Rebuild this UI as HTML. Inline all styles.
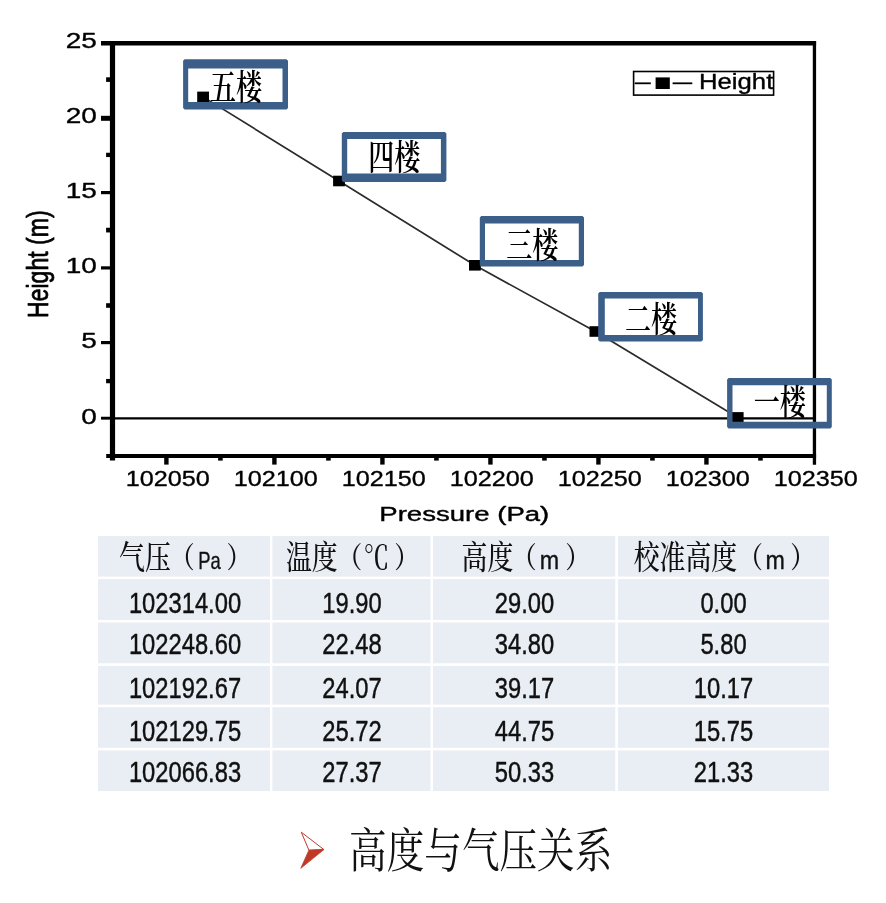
<!DOCTYPE html>
<html lang="zh-CN">
<head>
<meta charset="utf-8">
<title>高度与气压关系</title>
<style>
html,body{margin:0;padding:0;background:#fff;}
body{width:886px;height:903px;overflow:hidden;}
svg{display:block;filter:blur(0.5px);}
</style>
</head>
<body>
<svg width="886" height="903" viewBox="0 0 886 903">
<rect width="886" height="903" fill="#fff"/>
<g fill="#E9EDF4">
<rect x="98.0" y="536.0" width="172.0" height="40.6"/>
<rect x="272.4" y="536.0" width="158.1" height="40.6"/>
<rect x="433.0" y="536.0" width="182.3" height="40.6"/>
<rect x="617.8" y="536.0" width="211.2" height="40.6"/>
<rect x="98.0" y="579.1" width="172.0" height="40.8"/>
<rect x="272.4" y="579.1" width="158.1" height="40.8"/>
<rect x="433.0" y="579.1" width="182.3" height="40.8"/>
<rect x="617.8" y="579.1" width="211.2" height="40.8"/>
<rect x="98.0" y="622.5" width="172.0" height="40.8"/>
<rect x="272.4" y="622.5" width="158.1" height="40.8"/>
<rect x="433.0" y="622.5" width="182.3" height="40.8"/>
<rect x="617.8" y="622.5" width="211.2" height="40.8"/>
<rect x="98.0" y="665.9" width="172.0" height="38.7"/>
<rect x="272.4" y="665.9" width="158.1" height="38.7"/>
<rect x="433.0" y="665.9" width="182.3" height="38.7"/>
<rect x="617.8" y="665.9" width="211.2" height="38.7"/>
<rect x="98.0" y="707.2" width="172.0" height="40.6"/>
<rect x="272.4" y="707.2" width="158.1" height="40.6"/>
<rect x="433.0" y="707.2" width="182.3" height="40.6"/>
<rect x="617.8" y="707.2" width="211.2" height="40.6"/>
<rect x="98.0" y="750.4" width="172.0" height="40.6"/>
<rect x="272.4" y="750.4" width="158.1" height="40.6"/>
<rect x="433.0" y="750.4" width="182.3" height="40.6"/>
<rect x="617.8" y="750.4" width="211.2" height="40.6"/>
</g>
<g stroke="#000" fill="none" stroke-linecap="butt">
<line x1="101" y1="43.2" x2="816.1" y2="43.2" stroke-width="4.4"/>
<line x1="112.5" y1="40.900000000000006" x2="112.5" y2="460.6" stroke-width="5.2"/>
<line x1="106.2" y1="456.0" x2="816.1" y2="456.0" stroke-width="4.2"/>
<line x1="814.45" y1="41.0" x2="814.45" y2="464.7" stroke-width="3.3"/>
<line x1="101.0" y1="118.3" x2="112.5" y2="118.3" stroke-width="5.0"/>
<line x1="101.0" y1="192.6" x2="112.5" y2="192.6" stroke-width="3.2"/>
<line x1="101.0" y1="267.9" x2="112.5" y2="267.9" stroke-width="3.2"/>
<line x1="101.0" y1="342.6" x2="112.5" y2="342.6" stroke-width="3.2"/>
<line x1="101.0" y1="418.2" x2="112.5" y2="418.2" stroke-width="2.9"/>
<line x1="106.1" y1="79.6" x2="112.5" y2="79.6" stroke-width="4.6"/>
<line x1="106.1" y1="154.9" x2="112.5" y2="154.9" stroke-width="4.3"/>
<line x1="106.1" y1="230.1" x2="112.5" y2="230.1" stroke-width="4.7"/>
<line x1="106.1" y1="305.5" x2="112.5" y2="305.5" stroke-width="4.6"/>
<line x1="106.1" y1="381.1" x2="112.5" y2="381.1" stroke-width="4.3"/>
<line x1="166.40" y1="456.0" x2="166.40" y2="464.6" stroke-width="4.4"/>
<line x1="274.41" y1="456.0" x2="274.41" y2="464.6" stroke-width="4.4"/>
<line x1="382.42" y1="456.0" x2="382.42" y2="464.6" stroke-width="4.4"/>
<line x1="490.43" y1="456.0" x2="490.43" y2="464.6" stroke-width="4.4"/>
<line x1="598.43" y1="456.0" x2="598.43" y2="464.6" stroke-width="4.4"/>
<line x1="706.44" y1="456.0" x2="706.44" y2="464.6" stroke-width="4.4"/>
<line x1="220.40" y1="456.0" x2="220.40" y2="460.6" stroke-width="4.6"/>
<line x1="328.41" y1="456.0" x2="328.41" y2="460.6" stroke-width="4.6"/>
<line x1="436.42" y1="456.0" x2="436.42" y2="460.6" stroke-width="4.6"/>
<line x1="544.43" y1="456.0" x2="544.43" y2="460.6" stroke-width="4.6"/>
<line x1="652.44" y1="456.0" x2="652.44" y2="460.6" stroke-width="4.6"/>
<line x1="760.45" y1="456.0" x2="760.45" y2="460.6" stroke-width="4.6"/>
<line x1="112.5" y1="418.4" x2="814.45" y2="418.4" stroke-width="2.2"/>
</g>
<polyline points="203.1,96.9 339.0,181.0 474.9,265.3 595.4,331.5 737.7,417.4" fill="none" stroke="#2b2b2b" stroke-width="1.7"/>
<rect x="197.2" y="91.6" width="11.8" height="10.6" fill="#000"/>
<rect x="333.1" y="175.7" width="11.8" height="10.6" fill="#000"/>
<rect x="469.0" y="260.0" width="11.8" height="10.6" fill="#000"/>
<rect x="589.5" y="326.2" width="11.8" height="10.6" fill="#000"/>
<rect x="731.8" y="412.1" width="11.8" height="10.6" fill="#000"/>
<text transform="translate(96.90 47.50) scale(1.2500 1.0000)" text-anchor="end" font-family='"Liberation Sans", sans-serif' font-size="22.4" font-weight="normal" fill="#000" stroke="#000" stroke-width="0.35" stroke-linejoin="round">25</text>
<text transform="translate(96.90 122.70) scale(1.2500 1.0000)" text-anchor="end" font-family='"Liberation Sans", sans-serif' font-size="22.4" font-weight="normal" fill="#000" stroke="#000" stroke-width="0.35" stroke-linejoin="round">20</text>
<text transform="translate(96.90 197.90) scale(1.2500 1.0000)" text-anchor="end" font-family='"Liberation Sans", sans-serif' font-size="22.4" font-weight="normal" fill="#000" stroke="#000" stroke-width="0.35" stroke-linejoin="round">15</text>
<text transform="translate(96.90 273.10) scale(1.2500 1.0000)" text-anchor="end" font-family='"Liberation Sans", sans-serif' font-size="22.4" font-weight="normal" fill="#000" stroke="#000" stroke-width="0.35" stroke-linejoin="round">10</text>
<text transform="translate(96.90 348.20) scale(1.2500 1.0000)" text-anchor="end" font-family='"Liberation Sans", sans-serif' font-size="22.4" font-weight="normal" fill="#000" stroke="#000" stroke-width="0.35" stroke-linejoin="round">5</text>
<text transform="translate(96.90 423.50) scale(1.2500 1.0000)" text-anchor="end" font-family='"Liberation Sans", sans-serif' font-size="22.4" font-weight="normal" fill="#000" stroke="#000" stroke-width="0.35" stroke-linejoin="round">0</text>
<text transform="translate(167.80 485.90) scale(1.1250 1.0000)" text-anchor="middle" font-family='"Liberation Sans", sans-serif' font-size="22.4" font-weight="normal" fill="#000" stroke="#000" stroke-width="0.35" stroke-linejoin="round">102050</text>
<text transform="translate(275.81 485.90) scale(1.1250 1.0000)" text-anchor="middle" font-family='"Liberation Sans", sans-serif' font-size="22.4" font-weight="normal" fill="#000" stroke="#000" stroke-width="0.35" stroke-linejoin="round">102100</text>
<text transform="translate(383.82 485.90) scale(1.1250 1.0000)" text-anchor="middle" font-family='"Liberation Sans", sans-serif' font-size="22.4" font-weight="normal" fill="#000" stroke="#000" stroke-width="0.35" stroke-linejoin="round">102150</text>
<text transform="translate(491.83 485.90) scale(1.1250 1.0000)" text-anchor="middle" font-family='"Liberation Sans", sans-serif' font-size="22.4" font-weight="normal" fill="#000" stroke="#000" stroke-width="0.35" stroke-linejoin="round">102200</text>
<text transform="translate(599.83 485.90) scale(1.1250 1.0000)" text-anchor="middle" font-family='"Liberation Sans", sans-serif' font-size="22.4" font-weight="normal" fill="#000" stroke="#000" stroke-width="0.35" stroke-linejoin="round">102250</text>
<text transform="translate(707.84 485.90) scale(1.1250 1.0000)" text-anchor="middle" font-family='"Liberation Sans", sans-serif' font-size="22.4" font-weight="normal" fill="#000" stroke="#000" stroke-width="0.35" stroke-linejoin="round">102300</text>
<text transform="translate(815.85 485.90) scale(1.1250 1.0000)" text-anchor="middle" font-family='"Liberation Sans", sans-serif' font-size="22.4" font-weight="normal" fill="#000" stroke="#000" stroke-width="0.35" stroke-linejoin="round">102350</text>
<text transform="translate(464.30 521.20) scale(1.3250 1.0000)" text-anchor="middle" font-family='"Liberation Sans", sans-serif' font-size="20.8" font-weight="normal" fill="#000" stroke="#000" stroke-width="0.38" stroke-linejoin="round">Pressure (Pa)</text>
<text transform="translate(48.00 264.20) rotate(-90) scale(1.0000 1.3000)" text-anchor="middle" font-family='"Liberation Sans", sans-serif' font-size="23.1" font-weight="normal" fill="#000" stroke="#000" stroke-width="0.6" stroke-linejoin="round">Height (m)</text>
<rect x="633.6" y="71.5" width="140" height="23.6" fill="#fff" stroke="#000" stroke-width="1.6"/>
<line x1="634.7" y1="83.3" x2="650.8" y2="83.3" stroke="#000" stroke-width="1.8"/>
<line x1="672.6" y1="83.3" x2="692.3" y2="83.3" stroke="#000" stroke-width="1.8"/>
<rect x="655.6" y="77.4" width="14.2" height="11.6" fill="#000"/>
<text transform="translate(699.00 89.20) scale(1.1900 1.0000)" text-anchor="start" font-family='"Liberation Sans", sans-serif' font-size="21.6" font-weight="normal" fill="#000" stroke="#000" stroke-width="0.35" stroke-linejoin="round">Height</text>
<path fill="#3C5F8A" fill-rule="evenodd" d="M184.6,59.2 H286.5 L288.0,60.7 V107.9 L286.5,109.4 H184.6 L183.1,107.9 V60.7 Z M188.2,68.5 V102.1 H282.5 V68.5 Z"/>
<text transform="translate(235.95 100.00) scale(0.7380 1.0000)" text-anchor="middle" font-family='"Liberation Serif", "Noto Serif CJK SC", serif' font-size="35.3" font-weight="600" fill="#000">五楼</text>
<path fill="#3C5F8A" fill-rule="evenodd" d="M343.3,131.9 H444.9 L446.4,133.4 V180.4 L444.9,181.9 H343.3 L341.8,180.4 V133.4 Z M347.2,139.0 V173.4 H440.9 V139.0 Z"/>
<text transform="translate(394.30 170.00) scale(0.7380 1.0000)" text-anchor="middle" font-family='"Liberation Serif", "Noto Serif CJK SC", serif' font-size="35.3" font-weight="600" fill="#000">四楼</text>
<path fill="#3C5F8A" fill-rule="evenodd" d="M481.3,216.1 H582.5 L584.0,217.6 V264.9 L582.5,266.4 H481.3 L479.8,264.9 V217.6 Z M485.0,223.4 V260.0 H578.8 V223.4 Z"/>
<text transform="translate(532.30 257.50) scale(0.7380 1.0000)" text-anchor="middle" font-family='"Liberation Serif", "Noto Serif CJK SC", serif' font-size="35.3" font-weight="600" fill="#000">三楼</text>
<path fill="#3C5F8A" fill-rule="evenodd" d="M599.7,291.9 H701.4 L702.9,293.4 V340.1 L701.4,341.6 H599.7 L598.2,340.1 V293.4 Z M604.8,298.5 V335.0 H698.0 V298.5 Z"/>
<text transform="translate(651.10 332.00) scale(0.7380 1.0000)" text-anchor="middle" font-family='"Liberation Serif", "Noto Serif CJK SC", serif' font-size="35.3" font-weight="600" fill="#000">二楼</text>
<path fill="#3C5F8A" fill-rule="evenodd" d="M728.6,378.1 H830.3 L831.8,379.6 V427.1 L830.3,428.6 H728.6 L727.1,427.1 V379.6 Z M732.5,385.3 V421.8 H826.8 V385.3 Z"/>
<text transform="translate(779.70 414.50) scale(0.7380 1.0000)" text-anchor="middle" font-family='"Liberation Serif", "Noto Serif CJK SC", serif' font-size="35.3" font-weight="600" fill="#000">一楼</text>
<text transform="translate(119.10 569.30) scale(0.7820 1.0000)" text-anchor="start" font-family='"Liberation Sans", "Noto Serif CJK SC", sans-serif' font-size="33" font-weight="500" fill="#111">气压</text>
<text transform="translate(169.70 568.30) scale(0.8600 1.0000)" text-anchor="start" font-family='"Liberation Sans", "Noto Serif CJK SC", sans-serif' font-size="29" font-weight="600" fill="#111">（</text>
<text transform="translate(198.20 569.30) scale(0.8000 1.0000)" text-anchor="start" font-family='"Liberation Sans", sans-serif' font-size="23.0" font-weight="normal" fill="#111" stroke="#111" stroke-width="0.35" stroke-linejoin="round">Pa</text>
<text transform="translate(226.40 568.30) scale(0.8600 1.0000)" text-anchor="start" font-family='"Liberation Sans", "Noto Serif CJK SC", sans-serif' font-size="29" font-weight="600" fill="#111">）</text>
<text transform="translate(286.00 569.30) scale(0.7820 1.0000)" text-anchor="start" font-family='"Liberation Sans", "Noto Serif CJK SC", sans-serif' font-size="33" font-weight="500" fill="#111">温度</text>
<text transform="translate(337.30 568.30) scale(0.8600 1.0000)" text-anchor="start" font-family='"Liberation Sans", "Noto Serif CJK SC", sans-serif' font-size="29" font-weight="600" fill="#111">（</text>
<text transform="translate(363.60 569.30) scale(0.7820 1.0000)" text-anchor="start" font-family='"Liberation Sans", "Noto Serif CJK SC", sans-serif' font-size="33" font-weight="500" fill="#111">℃</text>
<text transform="translate(394.30 568.30) scale(0.8600 1.0000)" text-anchor="start" font-family='"Liberation Sans", "Noto Serif CJK SC", sans-serif' font-size="29" font-weight="600" fill="#111">）</text>
<text transform="translate(461.60 569.30) scale(0.7820 1.0000)" text-anchor="start" font-family='"Liberation Sans", "Noto Serif CJK SC", sans-serif' font-size="33" font-weight="500" fill="#111">高度</text>
<text transform="translate(511.80 568.30) scale(0.8600 1.0000)" text-anchor="start" font-family='"Liberation Sans", "Noto Serif CJK SC", sans-serif' font-size="29" font-weight="600" fill="#111">（</text>
<text transform="translate(539.80 569.30) scale(0.9300 1.0000)" text-anchor="start" font-family='"Liberation Sans", sans-serif' font-size="25.0" font-weight="normal" fill="#111" stroke="#111" stroke-width="0.35" stroke-linejoin="round">m</text>
<text transform="translate(565.20 568.30) scale(0.8600 1.0000)" text-anchor="start" font-family='"Liberation Sans", "Noto Serif CJK SC", sans-serif' font-size="29" font-weight="600" fill="#111">）</text>
<text transform="translate(633.80 569.30) scale(0.7820 1.0000)" text-anchor="start" font-family='"Liberation Sans", "Noto Serif CJK SC", sans-serif' font-size="33" font-weight="500" fill="#111">校准高度</text>
<text transform="translate(737.90 568.30) scale(0.8600 1.0000)" text-anchor="start" font-family='"Liberation Sans", "Noto Serif CJK SC", sans-serif' font-size="29" font-weight="600" fill="#111">（</text>
<text transform="translate(765.40 569.30) scale(0.9300 1.0000)" text-anchor="start" font-family='"Liberation Sans", sans-serif' font-size="25.0" font-weight="normal" fill="#111" stroke="#111" stroke-width="0.35" stroke-linejoin="round">m</text>
<text transform="translate(790.20 568.30) scale(0.8600 1.0000)" text-anchor="start" font-family='"Liberation Sans", "Noto Serif CJK SC", sans-serif' font-size="29" font-weight="600" fill="#111">）</text>
<text transform="translate(185.00 612.90) scale(0.8050 1.0000)" text-anchor="middle" font-family='"Liberation Sans", sans-serif' font-size="29.5" font-weight="normal" fill="#111" stroke="#111" stroke-width="0.45" stroke-linejoin="round">102314.00</text>
<text transform="translate(352.00 612.90) scale(0.8050 1.0000)" text-anchor="middle" font-family='"Liberation Sans", sans-serif' font-size="29.5" font-weight="normal" fill="#111" stroke="#111" stroke-width="0.45" stroke-linejoin="round">19.90</text>
<text transform="translate(524.50 612.90) scale(0.8050 1.0000)" text-anchor="middle" font-family='"Liberation Sans", sans-serif' font-size="29.5" font-weight="normal" fill="#111" stroke="#111" stroke-width="0.45" stroke-linejoin="round">29.00</text>
<text transform="translate(723.50 612.90) scale(0.8050 1.0000)" text-anchor="middle" font-family='"Liberation Sans", sans-serif' font-size="29.5" font-weight="normal" fill="#111" stroke="#111" stroke-width="0.45" stroke-linejoin="round">0.00</text>
<text transform="translate(185.00 654.20) scale(0.8050 1.0000)" text-anchor="middle" font-family='"Liberation Sans", sans-serif' font-size="29.5" font-weight="normal" fill="#111" stroke="#111" stroke-width="0.45" stroke-linejoin="round">102248.60</text>
<text transform="translate(352.00 654.20) scale(0.8050 1.0000)" text-anchor="middle" font-family='"Liberation Sans", sans-serif' font-size="29.5" font-weight="normal" fill="#111" stroke="#111" stroke-width="0.45" stroke-linejoin="round">22.48</text>
<text transform="translate(524.50 654.20) scale(0.8050 1.0000)" text-anchor="middle" font-family='"Liberation Sans", sans-serif' font-size="29.5" font-weight="normal" fill="#111" stroke="#111" stroke-width="0.45" stroke-linejoin="round">34.80</text>
<text transform="translate(723.50 654.20) scale(0.8050 1.0000)" text-anchor="middle" font-family='"Liberation Sans", sans-serif' font-size="29.5" font-weight="normal" fill="#111" stroke="#111" stroke-width="0.45" stroke-linejoin="round">5.80</text>
<text transform="translate(185.00 697.60) scale(0.8050 1.0000)" text-anchor="middle" font-family='"Liberation Sans", sans-serif' font-size="29.5" font-weight="normal" fill="#111" stroke="#111" stroke-width="0.45" stroke-linejoin="round">102192.67</text>
<text transform="translate(352.00 697.60) scale(0.8050 1.0000)" text-anchor="middle" font-family='"Liberation Sans", sans-serif' font-size="29.5" font-weight="normal" fill="#111" stroke="#111" stroke-width="0.45" stroke-linejoin="round">24.07</text>
<text transform="translate(524.50 697.60) scale(0.8050 1.0000)" text-anchor="middle" font-family='"Liberation Sans", sans-serif' font-size="29.5" font-weight="normal" fill="#111" stroke="#111" stroke-width="0.45" stroke-linejoin="round">39.17</text>
<text transform="translate(723.50 697.60) scale(0.8050 1.0000)" text-anchor="middle" font-family='"Liberation Sans", sans-serif' font-size="29.5" font-weight="normal" fill="#111" stroke="#111" stroke-width="0.45" stroke-linejoin="round">10.17</text>
<text transform="translate(185.00 740.90) scale(0.8050 1.0000)" text-anchor="middle" font-family='"Liberation Sans", sans-serif' font-size="29.5" font-weight="normal" fill="#111" stroke="#111" stroke-width="0.45" stroke-linejoin="round">102129.75</text>
<text transform="translate(352.00 740.90) scale(0.8050 1.0000)" text-anchor="middle" font-family='"Liberation Sans", sans-serif' font-size="29.5" font-weight="normal" fill="#111" stroke="#111" stroke-width="0.45" stroke-linejoin="round">25.72</text>
<text transform="translate(524.50 740.90) scale(0.8050 1.0000)" text-anchor="middle" font-family='"Liberation Sans", sans-serif' font-size="29.5" font-weight="normal" fill="#111" stroke="#111" stroke-width="0.45" stroke-linejoin="round">44.75</text>
<text transform="translate(723.50 740.90) scale(0.8050 1.0000)" text-anchor="middle" font-family='"Liberation Sans", sans-serif' font-size="29.5" font-weight="normal" fill="#111" stroke="#111" stroke-width="0.45" stroke-linejoin="round">15.75</text>
<text transform="translate(185.00 782.30) scale(0.8050 1.0000)" text-anchor="middle" font-family='"Liberation Sans", sans-serif' font-size="29.5" font-weight="normal" fill="#111" stroke="#111" stroke-width="0.45" stroke-linejoin="round">102066.83</text>
<text transform="translate(352.00 782.30) scale(0.8050 1.0000)" text-anchor="middle" font-family='"Liberation Sans", sans-serif' font-size="29.5" font-weight="normal" fill="#111" stroke="#111" stroke-width="0.45" stroke-linejoin="round">27.37</text>
<text transform="translate(524.50 782.30) scale(0.8050 1.0000)" text-anchor="middle" font-family='"Liberation Sans", sans-serif' font-size="29.5" font-weight="normal" fill="#111" stroke="#111" stroke-width="0.45" stroke-linejoin="round">50.33</text>
<text transform="translate(723.50 782.30) scale(0.8050 1.0000)" text-anchor="middle" font-family='"Liberation Sans", sans-serif' font-size="29.5" font-weight="normal" fill="#111" stroke="#111" stroke-width="0.45" stroke-linejoin="round">21.33</text>
<path d="M301.3,832.2 L323.9,849.6 L308.9,850.2 Z" fill="#fff" stroke="#C0392B" stroke-width="1"/>
<path d="M323.9,849.6 L300.8,868.3 L308.9,850.2 Z" fill="#BE3A26" stroke="#BE3A26" stroke-width="0.8"/>
<text transform="translate(480.70 867.20) scale(0.8090 1.0000)" text-anchor="middle" font-family='"Liberation Serif", "Noto Serif CJK SC", serif' font-size="46.5" font-weight="normal" fill="#111">高度与气压关系</text>
</svg>
</body>
</html>
